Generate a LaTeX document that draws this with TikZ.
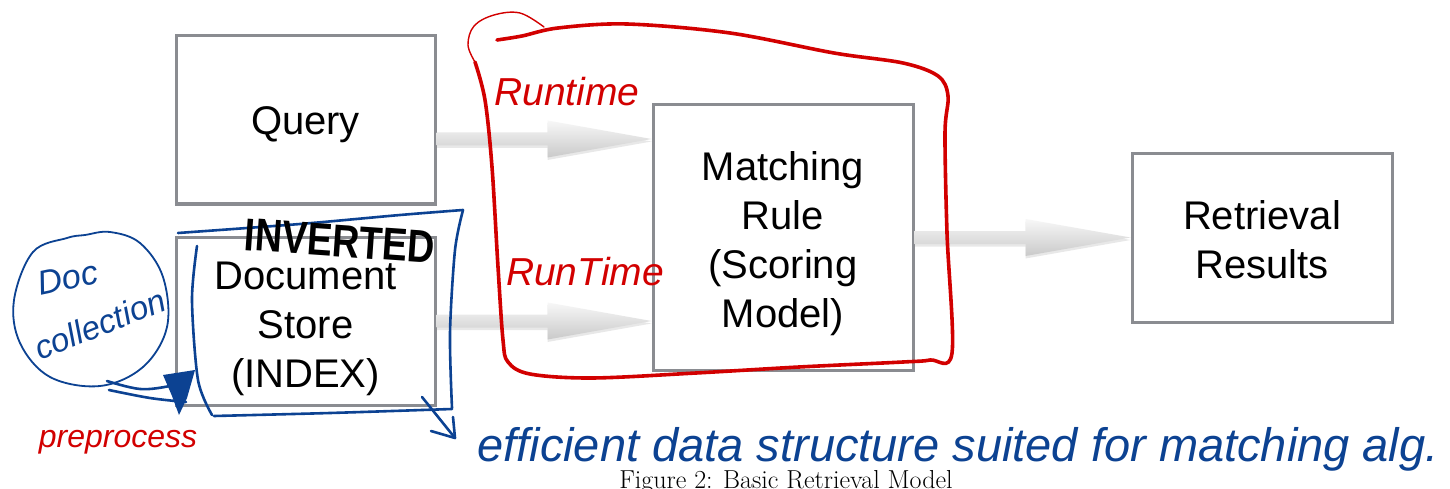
\documentclass[tikz,border=0pt]{standalone}
\usepackage{fontspec}
\usepackage{graphicx}
\setsansfont{Liberation Sans}
\usetikzlibrary{calc,shadows}
\definecolor{boxgray}{RGB}{138,140,145}
\definecolor{redpen}{RGB}{210,0,0}
\definecolor{bluepen}{RGB}{12,66,146}
\newcommand{\garrow}[3]{%
  \path[arrowfill] let \p1=(#1), \p2=(#2) in
   (\x1,\y1+6.5pt) -- (\x2-#3,\y1+6.5pt) -- (\x2-#3,\y1+18.5pt) -- (\x2,\y1)
   -- (\x2-#3,\y1-18.5pt) -- (\x2-#3,\y1-6.5pt) -- (\x1,\y1-6.5pt) -- cycle;}
\begin{document}
\begin{tikzpicture}[x=1pt,y=-1pt,
  box/.style={draw=boxgray, line width=3pt, fill=white, inner sep=0pt,
    minimum width=259pt},
  boxtext/.style={inner sep=0pt, align=center, text=black,
    font=\sffamily\fontsize{40}{49}\selectfont},
  arrowfill/.style={top color=gray!6, bottom color=gray!42,
    drop shadow={opacity=0.18, shadow xshift=0pt, shadow yshift=-2.5pt}},
  redstroke/.style={draw=redpen, line width=3.6pt, line cap=round, line join=round},
  redthin/.style={draw=redpen, line width=1.4pt, line cap=round},
  bluestroke/.style={draw=bluepen, line width=2.6pt, line cap=round, line join=round},
  bluethin/.style={draw=bluepen, line width=1.8pt, line cap=round, line join=round},
  redtext/.style={text=redpen, inner sep=0pt, font=\sffamily\itshape\fontsize{39}{40}\selectfont},
  bluetext/.style={text=bluepen, inner sep=0pt, font=\sffamily\itshape\fontsize{47}{50}\selectfont},
  inktext/.style={text=black, inner sep=0pt, font=\sffamily\bfseries\fontsize{46}{48}\selectfont}]
\useasboundingbox (0,0) rectangle (1450,489);
\fill[white] (0,0) rectangle (1450,489);

% boxes
\node[box, minimum height=168pt] (q) at (305.5,120) {};
\node[boxtext, yshift=-5pt] (qt) at (q) {Query};
\node[box, minimum height=168pt] (d) at (305.5,321) {};
\node[boxtext, yshift=-8pt] (dt) at (d) {Document\\Store\\(INDEX)};
\node[box, minimum width=260pt, minimum height=265pt] (m) at (783,237.5) {};
\node[boxtext, yshift=-6pt] (mt) at (m) {Matching\\Rule\\(Scoring\\Model)};
\node[box, minimum width=260pt, minimum height=168pt] (r) at (1262,238) {};
\node[boxtext, yshift=-2pt] (rt) at (r) {Retrieval\\Results};

% block arrows
\coordinate (a1) at ($(q.east)+(0,19)$);
\garrow{a1}{m.west|-a1}{104pt}
\garrow{d.east}{m.west|-d.east}{104pt}
\garrow{m.east}{r.west|-m.east}{105pt}

% red annotation loop
\draw[redstroke] plot[smooth, tension=0.55] coordinates {(497,40) (522,36) (558,28) (627,24) (730,33) (834,53) (903,63) (938,76) (948,96) (945,133) (947,233) (952,353) (930,360) (903,362) (799,367) (696,373) (592,378) (530,374) (508,362) (503,340) (498,267) (492,167) (485,100) (475,62)};
\draw[redthin] plot[smooth, tension=0.6] coordinates {(475,62) (468,45) (474,26) (494,15) (520,13) (544,27)};
\node[redtext] (rt1) at (567,92) {Runtime};
\node[redtext] (rt2) at (585,272) {RunTime};
\node[redtext, font=\sffamily\itshape\fontsize{32}{34}\selectfont] (pre) at (118,442) {preprocess};

% blue box around document store
\draw[bluestroke] plot[smooth, tension=0.5] coordinates {(178,233) (300,224) (400,215) (463,210)};
\draw[bluestroke] plot[smooth, tension=0.5] coordinates {(463,210) (455,250) (450,333) (452,408)};
\draw[bluestroke] plot[smooth, tension=0.5] coordinates {(452,409) (330,413) (214,416)};
\draw[bluestroke] plot[smooth, tension=0.5] coordinates {(212,415) (198,380) (192,300) (197,246)};

% doc collection blob
\draw[bluethin] plot[smooth cycle, tension=0.6] coordinates {(67,238) (33,252) (14,300) (20,343) (50,377) (100,386) (143,367) (167,327) (163,277) (140,243) (110,232) (85,235)};
\node[bluetext, font=\sffamily\itshape\fontsize{34}{36}\selectfont, rotate=12] (doc) at (68,278) {Doc};
\node[bluetext, font=\sffamily\itshape\fontsize{33}{36}\selectfont, rotate=22] (coll) at (100,324) {collection};

% preprocess arrow into the store
\draw[bluestroke] plot[smooth, tension=0.6] coordinates {(107,381) (140,389) (170,386) (190,380)};
\draw[bluestroke] plot[smooth, tension=0.6] coordinates {(109,390) (150,398) (186,402)};
\fill[bluepen] (163,375) -- (195,370) -- (187,398) -- (179,415) -- (172,396) -- cycle;

% arrow to explanation
\coordinate (bs) at (422,397);
\coordinate (be) at (455,438);
\draw[bluestroke] (bs) -- (be);
\draw[bluestroke] (431,431) -- (be) -- (453,417);
\node[bluetext, anchor=base] (eff) at (958,461) {efficient data structure suited for matching alg.};

% inverted
\node[inktext, rotate=-4] (inv) at (340,241) {\scalebox{0.82}[1]{INVERTED}};

% caption
\node[anchor=base, inner sep=0pt, font=\fontsize{26}{30}\selectfont] (cap) at (786,488) {Figure 2: Basic Retrieval Model};
\end{tikzpicture}
\end{document}
